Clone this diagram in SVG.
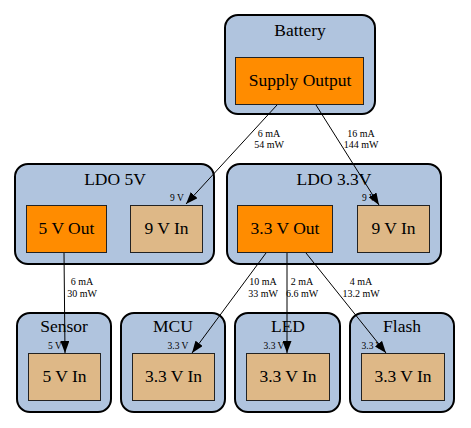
<svg xmlns="http://www.w3.org/2000/svg" width="471" height="428" viewBox="0 0 471 428" font-family="'Liberation Serif', 'Times New Roman', serif">
<style>
.cl{fill:#b0c4de;stroke:#000;stroke-width:2}
.out{fill:#ff8c00;stroke:#222;stroke-width:1}
.in{fill:#deb887;stroke:#222;stroke-width:1}
text{font-family:'Liberation Serif','Times New Roman',serif;fill:#000;text-anchor:middle}
.t{font-size:17.5px}
.el{font-size:10px}
.hl{font-size:9.5px}
.e{stroke:#000;stroke-width:1;fill:none;marker-end:url(#ah)}
</style>
<defs>
<marker id="ah" markerUnits="userSpaceOnUse" viewBox="0 0 12 9" refX="12" refY="4.5" markerWidth="12" markerHeight="9" orient="auto">
<path d="M0,0 L12,4.5 L0,9 z" fill="#000"/>
</marker>
</defs>
<rect width="471" height="428" fill="#fff"/>
<g id="battery">
<rect class="cl" x="225" y="15" width="150" height="99" rx="13"/>
<text class="t" x="300" y="36">Battery</text>
<rect class="out" x="235.5" y="57.5" width="128" height="47"/>
<text class="t" x="300" y="86">Supply Output</text>
</g>
<g id="ldo5v">
<rect class="cl" x="15" y="164" width="199" height="100" rx="13"/>
<text class="t" x="115" y="185">LDO 5V</text>
<rect class="out" x="26.5" y="205.5" width="80" height="47"/>
<text class="t" x="66.5" y="234">5 V Out</text>
<rect class="in" x="130.5" y="205.5" width="72" height="47"/>
<text class="t" x="166.5" y="234">9 V In</text>
</g>
<g id="ldo33v">
<rect class="cl" x="227" y="164" width="214" height="100" rx="13"/>
<text class="t" x="334" y="185">LDO 3.3V</text>
<rect class="out" x="237.5" y="205.5" width="95" height="47"/>
<text class="t" x="285" y="234">3.3 V Out</text>
<rect class="in" x="357.5" y="205.5" width="72" height="47"/>
<text class="t" x="393.5" y="234">9 V In</text>
</g>
<g id="sensor">
<rect class="cl" x="17" y="313" width="94" height="99" rx="13"/>
<text class="t" x="64" y="332">Sensor</text>
<rect class="in" x="28.5" y="353.5" width="72" height="47"/>
<text class="t" x="64.5" y="382">5 V In</text>
</g>
<g id="mcu">
<rect class="cl" x="121" y="313" width="104" height="99" rx="13"/>
<text class="t" x="173" y="332">MCU</text>
<rect class="in" x="132.5" y="353.5" width="82" height="47"/>
<text class="t" x="173.5" y="382">3.3 V In</text>
</g>
<g id="led">
<rect class="cl" x="235" y="313" width="105" height="99" rx="13"/>
<text class="t" x="288" y="332">LED</text>
<rect class="in" x="246.5" y="353.5" width="83" height="47"/>
<text class="t" x="288" y="382">3.3 V In</text>
</g>
<g id="flash">
<rect class="cl" x="350" y="313" width="104" height="99" rx="13"/>
<text class="t" x="402" y="332">Flash</text>
<rect class="in" x="361.5" y="353.5" width="83" height="47"/>
<text class="t" x="403" y="382">3.3 V In</text>
</g>
<g id="connectors">
<text class="hl" x="177" y="201">9 V</text>
<text class="hl" x="369" y="201">9 V</text>
<text class="hl" x="55" y="349">5 V</text>
<text class="hl" x="178" y="349">3.3 V</text>
<text class="hl" x="274" y="349">3.3 V</text>
<text class="hl" x="372" y="349">3.3 V</text>
<line class="e" x1="277" y1="105" x2="186" y2="204"/>
<line class="e" x1="316" y1="105" x2="379" y2="205"/>
<line class="e" x1="64" y1="253" x2="65" y2="353"/>
<line class="e" x1="266" y1="253" x2="192" y2="353"/>
<line class="e" x1="287" y1="253" x2="287" y2="353"/>
<line class="e" x1="306" y1="253" x2="386" y2="353"/>
<text class="el" x="269" y="137">6 mA</text>
<text class="el" x="269" y="148">54 mW</text>
<text class="el" x="361" y="137">16 mA</text>
<text class="el" x="361" y="148">144 mW</text>
<text class="el" x="82" y="285">6 mA</text>
<text class="el" x="82" y="297">30 mW</text>
<text class="el" x="263" y="285">10 mA</text>
<text class="el" x="263" y="297">33 mW</text>
<text class="el" x="302" y="285">2 mA</text>
<text class="el" x="302" y="297">6.6 mW</text>
<text class="el" x="361" y="285">4 mA</text>
<text class="el" x="361" y="297">13.2 mW</text>
</g>
</svg>
